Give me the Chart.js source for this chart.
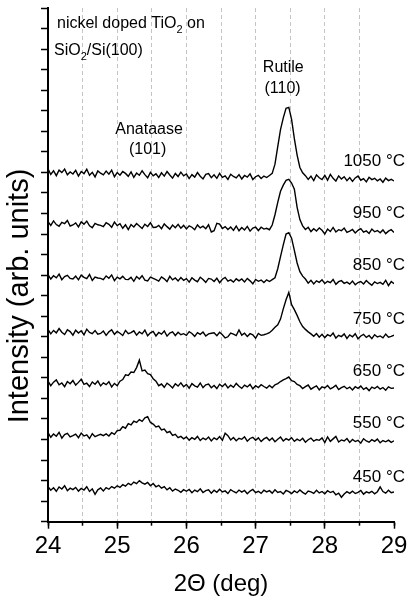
<!DOCTYPE html>
<html>
<head>
<meta charset="utf-8">
<script src="https://cdn.jsdelivr.net/npm/chart.js@4"></script>
<style>
  html, body { margin: 0; padding: 0; background: #fff; }
</style>
</head>
<body>
<canvas id="xrd" width="410" height="600"></canvas>
<script>
const FONT = '"Liberation Sans", Arial, sans-serif';

// 2-theta sampling grid (deg), 24 to 29 in 0.04 steps
const twoTheta = [];
for (let i = 0; i <= 125; i++) twoTheta.push(+(24 + i * 0.04).toFixed(2));

const temps = ['450 °C', '550 °C', '650 °C', '750 °C', '850 °C', '950 °C', '1050 °C'];
// vertical stacking of each pattern (axis units)
const offsets = [1.45, 4.05, 6.6, 9.1, 11.75, 14.3, 16.8];

// intensities, in 1/100 axis units above each offset
const i450 = [26,8,20,3,24,14,30,6,18,11,
  22,4,17,9,25,2,15,-12,10,19,
  5,21,13,26,18,30,22,35,28,42,
  34,48,40,55,44,38,46,30,41,25,
  32,18,26,10,20,4,14,8,-2,11,
  3,12,-4,9,1,15,-3,6,10,-6,
  8,-2,13,0,5,-8,11,2,-5,9,
  -1,7,-9,4,12,-4,3,-7,8,0,
  6,-6,10,-3,2,-10,7,1,-8,5,
  -4,9,-2,-11,4,0,-7,8,-5,2,
  -9,6,-3,3,-14,-6,-26,-10,1,-7,
  4,-8,-2,7,-11,0,-5,3,-9,1,
  24,2,-6,8,-4,0];
const i550 = [28,6,22,11,30,2,19,25,8,14,
  21,4,26,12,18,0,23,9,15,20,
  14,22,12,28,20,38,40,58,50,72,
  66,84,78,92,83,100,106,78,70,56,
  60,42,46,28,34,15,20,4,10,-2,
  8,-8,4,-4,10,-10,2,-6,7,-12,
  3,-5,9,-9,26,14,-7,5,-11,1,
  -4,8,-13,0,6,-9,3,-15,-2,5,
  -10,2,-16,-4,7,-12,-1,-8,4,-14,
  -3,-11,1,-18,-6,2,-13,-5,-9,3,
  -20,8,-14,-2,10,-17,-7,-12,0,-19,
  -5,-15,-9,-23,-1,-12,-18,-6,-14,-3,
  -21,-10,-16,-8,-19,-11];
const i650 = [24,2,19,30,6,15,-3,22,11,27,
  5,18,33,8,14,-2,20,9,25,1,
  16,7,21,-4,13,2,24,32,55,52,
  68,66,90,126,74,78,60,56,36,24,
  2,10,-6,14,4,-9,11,0,16,-3,
  8,-10,12,1,-5,15,-7,6,10,-8,
  3,-12,9,-2,11,-9,4,-6,13,-1,
  -11,5,-4,8,-13,2,-7,7,-2,-10,
  3,-8,6,12,22,30,36,44,26,22,
  8,2,-12,-3,5,-15,-6,1,-18,-4,
  -9,3,-14,-6,4,-17,-8,-1,-13,-5,
  -19,-3,-11,0,-16,-8,-22,-5,-12,-2,
  -15,-7,-20,-4,-11,-9];
const i750 = [26,4,21,9,30,12,1,24,15,-2,
  22,8,19,-1,27,11,5,20,3,6,
  18,-3,14,24,2,16,7,-4,21,5,
  10,19,-2,13,4,22,-5,9,16,-6,
  11,3,18,-7,8,14,-4,12,0,5,
  -3,15,6,-8,10,2,13,-6,4,7,
  9,-5,12,0,-16,-10,8,3,-4,23,
  -2,7,-9,5,-1,-17,6,-3,0,4,
  10,22,36,48,76,126,170,206,146,122,
  94,63,40,26,14,4,-8,6,-12,2,
  -14,0,-7,8,-16,-3,-9,4,-18,-1,
  -10,5,-20,-6,2,-13,-4,-19,0,-11,
  -6,-15,3,-12,-8,-2];
const i850 = [27,6,22,12,30,3,18,24,9,6,
  20,2,25,14,8,28,-1,16,11,9,
  3,21,10,26,-2,15,7,19,4,3,
  14,-5,18,6,22,1,-3,15,9,3,
  -4,16,7,-6,19,2,11,-3,13,0,
  8,-9,12,1,-7,15,4,-10,9,6,
  -6,10,-12,5,14,-4,2,-9,7,-3,
  6,-8,9,-3,-17,4,-5,1,-11,2,
  -6,3,12,56,115,172,225,232,205,145,
  84,42,20,6,-14,0,-18,-3,-10,2,
  -16,-5,-12,4,-20,-7,-2,-15,-9,-19,
  -4,-22,-11,-6,-18,-1,-14,-24,-8,-16,
  -10,-20,0,-26,-6,-17];
const i950 = [30,12,34,16,8,27,21,36,9,14,
  24,5,29,18,33,10,1,22,15,12,
  6,25,17,3,28,11,20,-2,15,-8,
  16,4,21,9,-3,18,7,25,2,3,
  12,-4,19,6,-6,14,1,17,-2,12,
  -5,10,3,-9,14,0,8,-4,15,-20,
  -14,22,18,-3,6,-8,4,-12,9,-14,
  2,-10,7,-16,-1,4,-13,3,-6,-2,
  -9,14,64,124,178,208,231,236,218,188,
  100,40,10,-8,3,-18,-4,-15,0,-12,
  -30,-6,-18,2,-20,-9,-14,-1,-22,-16,
  -8,-25,-12,-4,-21,-15,-27,-6,-19,-13,
  -24,-10,-28,-16,-9,-22];
const i1050 = [38,10,28,4,31,19,36,8,22,12,
  30,2,24,14,35,6,20,-2,27,16,
  8,26,11,31,-1,19,6,24,15,1,
  22,-4,17,6,28,9,-6,20,3,13,
  -5,18,2,24,7,-8,15,0,21,3,
  12,-10,9,-3,19,1,-12,10,14,-6,
  8,-9,15,-4,3,-14,11,0,-7,9,
  -12,5,-3,13,-15,-1,6,-10,2,-5,
  5,15,60,145,228,285,332,336,278,184,
  104,44,18,4,-14,2,-20,8,-6,-15,
  6,-18,10,-9,-22,3,-12,-1,-20,-5,
  -24,-7,2,-18,-10,-26,-4,-15,-9,-21,
  -12,-28,-8,-20,-14,-22];

const patterns = [i450, i550, i650, i750, i850, i950, i1050];

const datasets = patterns.map((vals, k) => ({
  label: temps[k],
  data: vals.map((v, j) => ({ x: twoTheta[j], y: offsets[k] + v / 100 })),
  borderColor: '#000',
  borderWidth: 1.4,
  pointRadius: 0,
  fill: false,
  tension: 0
}));

// draws a run of [text, isSubscript] pieces
function drawRuns(ctx, runs, x, y, size) {
  runs.forEach(([txt, sub]) => {
    ctx.font = (sub ? Math.round(size * 0.68) : size) + 'px ' + FONT;
    ctx.fillText(txt, x, sub ? y + 5 : y);
    x += ctx.measureText(txt).width;
  });
}

const textPlugin = {
  id: 'xrdText',
  afterDatasetsDraw(chart) {
    const { ctx, chartArea, scales: { x, y } } = chart;
    ctx.save();
    ctx.fillStyle = '#000';
    ctx.textBaseline = 'alphabetic';

    // temperature labels at the right of each pattern
    ctx.font = '17px ' + FONT;
    ctx.textAlign = 'right';
    temps.forEach((t, k) => {
      ctx.fillText(t, chartArea.right + 11, y.getPixelForValue(offsets[k] + 0.5));
    });

    // reflection names
    ctx.font = '16px ' + FONT;
    ctx.textAlign = 'center';
    ctx.fillText('Rutile', x.getPixelForValue(27.40), y.getPixelForValue(21.9));
    ctx.fillText('(110)', x.getPixelForValue(27.39), y.getPixelForValue(20.86));
    ctx.fillText('Anataase', x.getPixelForValue(25.46), y.getPixelForValue(18.85));
    ctx.fillText('(101)', x.getPixelForValue(25.44), y.getPixelForValue(17.89));

    // sample description
    ctx.textAlign = 'left';
    drawRuns(ctx, [['nickel doped TiO', 0], ['2', 1], [' on', 0]],
      chartArea.left + 9, y.getPixelForValue(24.03), 16);
    drawRuns(ctx, [['SiO', 0], ['2', 1], ['/Si(100)', 0]],
      chartArea.left + 6, y.getPixelForValue(22.71), 16);

    // y axis title
    ctx.font = '29px ' + FONT;
    ctx.textAlign = 'center';
    ctx.translate(28.3, 296);
    ctx.rotate(-Math.PI / 2);
    ctx.fillText('Intensity (arb. units)', 0, 0);
    ctx.restore();
  }
};

new Chart(document.getElementById('xrd'), {
  type: 'line',
  data: { datasets: datasets },
  options: {
    responsive: false,
    animation: false,
    layout: { padding: { left: 0, right: 16, top: 8, bottom: 0 } },
    plugins: { legend: { display: false }, tooltip: { enabled: false } },
    scales: {
      x: {
        type: 'linear', position: 'bottom', weight: 1, min: 24, max: 29,
        ticks: { stepSize: 1, color: '#000', font: { family: FONT, size: 24 }, padding: 3, maxRotation: 0, autoSkip: false },
        grid: { drawOnChartArea: false, tickLength: 7, tickWidth: 1.5, tickColor: '#000' },
        border: { color: '#000', width: 2 },
        title: { display: true, text: '2Θ (deg)', color: '#000', font: { family: FONT, size: 24 }, padding: { top: 0, bottom: 1 } },
        afterFit: s => { s.height = 78.3; s.paddingLeft = 0; s.paddingRight = 0; }
      },
      xMinor: {
        type: 'linear', position: 'bottom', weight: 0, min: 24, max: 29,
        ticks: { display: false, stepSize: 0.5 },
        grid: {
          color: c => (c.tick && (c.tick.value === 24 || c.tick.value === 29)) ? 'rgba(0,0,0,0)' : '#c4c4c4',
          lineWidth: 1, tickLength: 4, tickWidth: 1.5, tickColor: '#000'
        },
        border: { display: false, dash: [4, 3] },
        afterFit: s => { s.height = 0; s.paddingLeft = 0; s.paddingRight = 0; }
      },
      y: {
        min: 0, max: 25,
        ticks: { display: false, stepSize: 1 },
        grid: { drawOnChartArea: false, tickLength: 7, tickWidth: 1.5, tickColor: '#000' },
        border: { color: '#000', width: 2 },
        afterFit: s => { s.width = 48; }
      }
    }
  },
  plugins: [textPlugin]
});
</script>
</body>
</html>
